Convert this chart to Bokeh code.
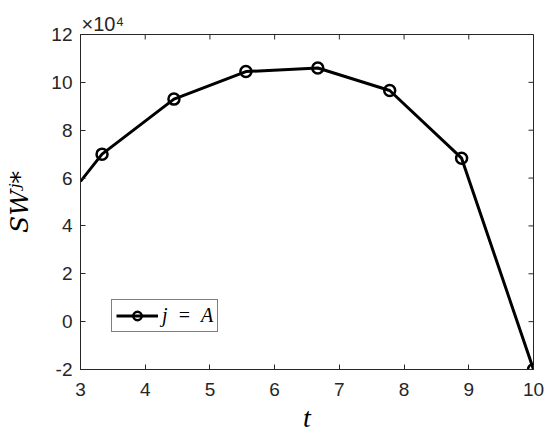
from bokeh.plotting import figure
from bokeh.models import (FixedTicker, Legend, LegendItem, ColumnDataSource,
                          Range1d, Title)
from bokeh.embed import file_html
from bokeh.resources import INLINE

# ---- data (values in units of 10^4) ----
t_line = [3.0, 3.333, 4.444, 5.556, 6.667, 7.778, 8.889, 10.0]
sw_line = [5.86, 7.0, 9.3, 10.45, 10.6, 9.66, 6.83, -2.0]
t_pts = t_line[1:]
sw_pts = sw_line[1:]
x_ticks = [3, 4, 5, 6, 7, 8, 9, 10]
y_ticks = [-2, 0, 2, 4, 6, 8, 10, 12]
series_label = "j\u2002=\u2002A"
x_label = "t"
y_label = "SW\u02b2*"
scale_label = "\u00d710\u2074"

AX = "#262626"
W, H = 548, 438
FL, FT, FW, FH = 80, 34, 453, 335
X0, X1, Y0, Y1 = 3, 10, -2, 12

p = figure(width=W, height=H, x_range=Range1d(X0, X1), y_range=Range1d(Y0, Y1),
           output_backend="svg", toolbar_location=None,
           min_border_left=FL, min_border_right=W - FL - FW,
           min_border_top=FT, min_border_bottom=H - FT - FH)
p.xgrid.visible = False
p.ygrid.visible = False
p.outline_line_color = AX
p.outline_line_width = 1
p.background_fill_color = "white"
p.border_fill_color = "white"

for ax, ticks in ((p.xaxis[0], x_ticks), (p.yaxis[0], y_ticks)):
    ax.ticker = FixedTicker(ticks=ticks)
    ax.axis_line_color = AX
    ax.axis_line_width = 1
    ax.major_tick_line_color = AX
    ax.major_tick_in = 5
    ax.major_tick_out = 0
    ax.minor_tick_line_color = None
    ax.major_label_text_font = "Liberation Sans"
    ax.major_label_text_font_size = "19px"
    ax.major_label_text_color = AX
    ax.major_label_overrides = {v: str(v) for v in ticks}

p.xaxis[0].major_label_standoff = 13
p.yaxis[0].major_label_standoff = 8

p.xaxis[0].axis_label = x_label
p.xaxis[0].axis_label_text_font = "Liberation Serif"
p.xaxis[0].axis_label_text_font_style = "italic"
p.xaxis[0].axis_label_text_font_size = "28px"
p.xaxis[0].axis_label_text_color = "black"
p.xaxis[0].axis_label_standoff = 3

p.yaxis[0].axis_label = y_label
p.yaxis[0].axis_label_text_font = "DejaVu Serif"
p.yaxis[0].axis_label_text_font_style = "italic"
p.yaxis[0].axis_label_text_font_size = "25px"
p.yaxis[0].axis_label_text_color = "black"
p.yaxis[0].axis_label_standoff = 14

# inward ticks on the top and right edges of the box
tx = 5 * (X1 - X0) / FW
ty = 5 * (Y1 - Y0) / FH
p.segment(x0=x_ticks, y0=[Y1] * len(x_ticks), x1=x_ticks,
          y1=[Y1 - ty] * len(x_ticks), line_color=AX, line_width=1)
p.segment(x0=[X1] * len(y_ticks), y0=y_ticks, x1=[X1 - tx] * len(y_ticks),
          y1=y_ticks, line_color=AX, line_width=1)

src_line = ColumnDataSource(dict(t=t_line, sw=sw_line))
src_pts = ColumnDataSource(dict(t=t_pts, sw=sw_pts))
r_line = p.line("t", "sw", source=src_line, line_color="black", line_width=3)
r_pts = p.scatter("t", "sw", source=src_pts, marker="circle", size=11,
                  fill_color=None, line_color="black", line_width=2.5)

legend = Legend(items=[LegendItem(label=series_label, renderers=[r_line, r_pts])],
                location=(31, 37))
legend.label_text_font = "Liberation Serif"
legend.label_text_font_style = "italic"
legend.label_text_font_size = "20px"
legend.label_text_color = "black"
legend.glyph_width = 42
legend.glyph_height = 21
legend.label_height = 21
legend.label_standoff = 4
legend.padding = 4
legend.margin = 0
legend.border_line_color = "black"
legend.border_line_width = 1.2
legend.background_fill_alpha = 1
p.add_layout(legend, "center")

p.add_layout(Title(text=scale_label, align="left", offset=1, standoff=0,
                   text_font="Liberation Sans", text_font_size="20px",
                   text_font_style="normal", text_color=AX), "above")

open("out.html", "w").write(file_html(p, INLINE))
